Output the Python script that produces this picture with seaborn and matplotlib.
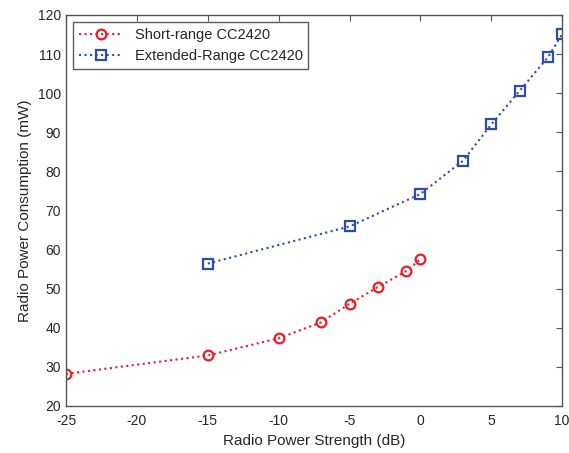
import pandas as pd
import numpy as np
import matplotlib
matplotlib.use("Agg")
import matplotlib.pyplot as plt
import seaborn as sns

# values
short_x = [-25, -15, -10, -7, -5, -3, -1, 0]
short_y = [28.2, 32.9, 37.3, 41.4, 46.1, 50.4, 54.5, 57.5]
ext_x = [-15, -5, 0, 3, 5, 7, 9, 10]
ext_y = [56.4, 65.9, 74.2, 82.7, 92.0, 100.6, 109.2, 115.1]

short_df = pd.DataFrame({"x": short_x, "y": short_y})
ext_df = pd.DataFrame({"x": ext_x, "y": ext_y})

sns.set_style("white")
plt.rcParams["font.family"] = ["Liberation Sans", "DejaVu Sans"]
plt.rcParams["axes.unicode_minus"] = False

fig = plt.figure(figsize=(5.69, 4.53), dpi=100)
ax = fig.add_axes([0.116, 0.104, 0.872, 0.863])

sns.lineplot(data=short_df, x="x", y="y", ax=ax, color="#ee1c25", linestyle=":",
             marker="o", markersize=7, markerfacecolor="none", markeredgecolor="#ee1c25",
             markeredgewidth=1.6, linewidth=1.5, label="Short-range CC2420")
sns.lineplot(data=ext_df, x="x", y="y", ax=ax, color="#2c4ea8", linestyle=":",
             marker="s", markersize=7, markerfacecolor="none", markeredgecolor="#2c4ea8",
             markeredgewidth=1.6, linewidth=1.5, label="Extended-Range CC2420")

ax.set_xlim(-25, 10)
ax.set_ylim(20, 120)
ax.set_xticks(np.arange(-25, 11, 5))
ax.set_yticks(np.arange(20, 121, 10))
ax.set_xlabel("Radio Power Strength (dB)", fontsize=11)
ax.set_ylabel("Radio Power Consumption (mW)", fontsize=11)
ax.tick_params(direction="in", top=True, right=True, labelsize=10, length=4, color="#555555")
ax.tick_params(axis="x", pad=6)
for s in ax.spines.values():
    s.set_color("#555555")
    s.set_linewidth(1.0)

leg = ax.legend(loc="upper left", fontsize=10.5, frameon=True, fancybox=False,
                borderaxespad=0.5, handlelength=3)
leg.get_frame().set_edgecolor("#333333")
leg.get_frame().set_linewidth(1.0)

fig.savefig("out.png", dpi=100)
